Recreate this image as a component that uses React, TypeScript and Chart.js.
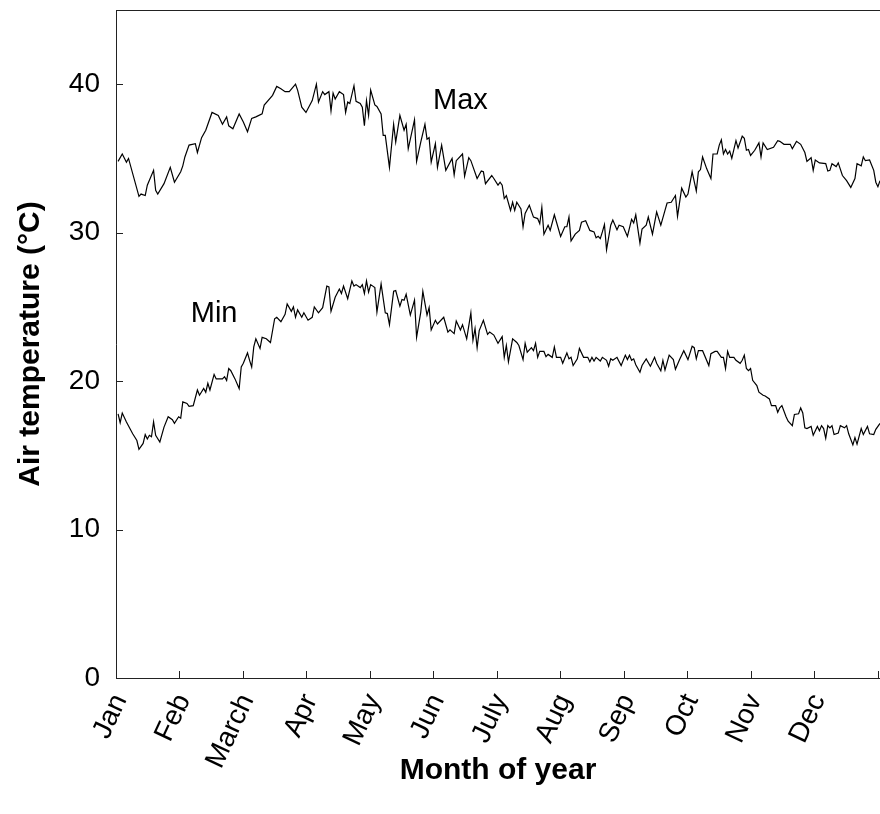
import React, { useEffect, useRef } from "react";
import { Chart, registerables } from "chart.js";

Chart.register(...registerables);

// ---- Data ----
const monthLabels = ["Jan", "Feb", "March", "Apr", "May", "Jun", "July", "Aug", "Sep", "Oct", "Nov", "Dec", ""];
const yTickValues = [0, 10, 20, 30, 40];

const maxDays = [
  1, 3, 5, 6, 11, 12, 14, 15, 18, 19,
  20, 23, 26, 28, 31, 32, 33, 35, 38, 39,
  41, 43, 46, 49, 51, 53, 54, 56, 59, 61,
  63, 65, 67, 70, 71, 75, 77, 79, 81, 83,
  86, 87, 89, 91, 94, 96, 97, 99, 100, 102,
  103, 104, 105, 107, 109, 110, 111, 112, 114, 115,
  117, 118, 119, 120, 121, 122, 124, 125, 127, 128,
  129, 131, 133, 134, 136, 138, 139, 140, 143, 144,
  146, 148, 149, 150, 151, 153, 154, 156, 158, 161,
  162, 163, 166, 167, 169, 170, 173, 175, 176, 177,
  180, 181, 183, 184, 185, 186, 187, 189, 190, 191,
  192, 194, 195, 196, 198, 200, 202, 203, 204, 205,
  207, 208, 210, 213, 215, 216, 217, 218, 220, 222,
  223, 225, 227, 229, 230, 231, 232, 233, 234, 235,
  237, 238, 240, 241, 243, 245, 247, 248, 249, 251,
  252, 254, 255, 257, 259, 261, 263, 264, 266, 268,
  269, 271, 273, 274, 276, 278, 279, 280, 281, 283,
  285, 286, 288, 289, 290, 291, 292, 293, 294, 295,
  297, 298, 300, 301, 302, 303, 304, 306, 308, 309,
  310, 312, 315, 317, 318, 320, 323, 324, 326, 328,
  330, 331, 333, 334, 335, 337, 340, 341, 342, 343,
  345, 346, 348, 350, 352, 354, 355, 357, 358, 359,
  361, 363, 364, 365, 366,
];
const maxTemps = [
  34.8, 35.3, 34.75, 35.0, 32.45, 32.6, 32.5, 33.2, 34.2, 32.85,
  32.6, 33.3, 34.4, 33.4, 34.1, 34.5, 35.1, 35.9, 36.0, 35.4,
  36.4, 36.9, 38.1, 37.9, 37.3, 37.8, 37.2, 37.0, 38.0, 37.45,
  36.8, 37.7, 37.8, 38.0, 38.6, 39.25, 39.85, 39.7, 39.5, 39.5,
  40.0, 39.6, 38.45, 38.1, 38.9, 40.0, 38.8, 39.5, 39.3, 39.5,
  38.2, 39.4, 39.0, 39.5, 39.3, 38.1, 38.8, 38.7, 39.9, 38.85,
  38.7, 38.45, 37.2, 38.9, 37.9, 39.6, 38.6, 38.5, 38.0, 36.55,
  36.55, 34.4, 37.3, 36.1, 37.9, 36.9, 37.3, 35.65, 37.6, 34.8,
  36.1, 37.3, 36.3, 36.4, 34.75, 36.0, 34.4, 35.9, 34.2, 35.0,
  33.9, 34.85, 35.3, 33.8, 35.05, 34.85, 33.65, 34.15, 34.1, 33.3,
  33.85, 33.65, 33.2, 33.4, 33.2, 32.3, 32.5, 31.5, 32.05, 31.5,
  32.05, 31.6, 30.4, 31.3, 31.85, 31.05, 30.95, 30.6, 31.7, 29.9,
  30.5, 30.15, 31.2, 29.75, 30.4, 30.4, 31.05, 29.45, 29.9, 30.15,
  30.7, 30.8, 30.15, 30.05, 29.65, 29.75, 29.6, 30.05, 30.55, 28.85,
  30.5, 30.85, 30.2, 30.5, 30.4, 29.75, 30.9, 30.65, 31.2, 29.3,
  30.25, 30.5, 31.05, 29.9, 31.4, 30.5, 31.5, 32.0, 32.05, 32.5,
  31.1, 33.0, 32.4, 32.6, 34.1, 32.8, 34.1, 34.25, 35.1, 34.3,
  33.65, 35.3, 35.3, 35.9, 36.25, 35.3, 35.6, 35.3, 35.5, 35.0,
  36.2, 35.7, 36.5, 36.35, 35.55, 35.6, 35.2, 35.55, 36.05, 35.1,
  36.05, 35.6, 35.75, 36.2, 36.15, 35.95, 35.95, 35.65, 36.15, 35.95,
  35.4, 34.8, 35.05, 34.2, 34.9, 34.7, 34.65, 34.15, 34.2, 34.65,
  34.45, 34.7, 33.85, 33.5, 33.05, 33.65, 34.65, 34.5, 35.1, 34.85,
  34.9, 34.2, 33.4, 33.1, 33.5,
];

const minDays = [
  1, 2, 3, 5, 8, 10, 11, 13, 14, 15,
  16, 17, 18, 19, 21, 23, 25, 27, 28, 30,
  31, 32, 34, 35, 37, 39, 40, 42, 43, 44,
  45, 47, 48, 51, 52, 53, 54, 55, 57, 59,
  60, 61, 63, 64, 65, 66, 67, 69, 70, 72,
  74, 76, 77, 79, 81, 82, 84, 85, 86, 87,
  89, 90, 92, 94, 95, 97, 99, 101, 102, 103,
  105, 107, 108, 109, 111, 113, 114, 115, 117, 118,
  119, 120, 121, 122, 124, 125, 127, 129, 130, 131,
  133, 134, 136, 137, 138, 139, 141, 143, 144, 146,
  147, 149, 150, 151, 153, 154, 157, 159, 160, 162,
  163, 165, 166, 168, 170, 171, 172, 173, 174, 176,
  178, 179, 181, 183, 185, 186, 187, 188, 190, 192,
  193, 195, 196, 197, 199, 200, 201, 202, 203, 205,
  206, 207, 209, 210, 211, 213, 214, 216, 217, 218,
  219, 221, 222, 224, 226, 227, 228, 229, 230, 232,
  233, 235, 236, 237, 238, 240, 242, 244, 245, 246,
  247, 248, 249, 251, 252, 254, 256, 258, 259, 261,
  262, 263, 265, 267, 268, 270, 272, 274, 276, 277,
  278, 279, 281, 284, 285, 287, 288, 290, 291, 292,
  293, 294, 296, 297, 299, 300, 301, 302, 303, 304,
  305, 307, 308, 310, 311, 313, 314, 316, 317, 318,
  319, 321, 322, 324, 325, 327, 328, 329, 330, 331,
  333, 334, 336, 337, 338, 339, 340, 341, 342, 343,
  344, 346, 347, 349, 350, 351, 353, 354, 355, 357,
  358, 360, 361, 363, 364, 366,
];
const minTemps = [
  17.8, 17.2, 17.85, 17.25, 16.45, 16.0, 15.4, 15.8, 16.4, 16.1,
  16.35, 16.25, 17.25, 16.35, 15.9, 16.9, 17.6, 17.4, 17.15, 17.6,
  17.5, 18.6, 18.5, 18.3, 18.35, 19.4, 19.05, 19.5, 19.25, 19.85,
  19.4, 20.45, 20.15, 20.15, 20.3, 20.05, 20.85, 20.7, 20.15, 19.5,
  20.95, 21.2, 21.9, 21.4, 20.95, 22.3, 22.85, 22.2, 22.95, 22.85,
  22.6, 24.2, 24.3, 24.0, 24.5, 25.2, 24.7, 25.0, 24.3, 24.8,
  24.3, 24.6, 24.1, 24.3, 25.0, 24.6, 24.95, 26.4, 26.35, 24.7,
  25.65, 26.2, 25.9, 26.4, 25.55, 26.75, 26.4, 26.5, 26.3, 26.5,
  25.9, 26.75, 26.0, 26.5, 26.3, 24.65, 26.55, 24.6, 24.55, 23.8,
  26.05, 26.1, 25.05, 25.5, 25.45, 25.85, 24.45, 25.45, 22.95, 24.65,
  26.05, 24.45, 24.95, 23.45, 24.1, 23.85, 24.3, 23.3, 23.45, 23.2,
  24.05, 23.45, 23.8, 22.85, 24.6, 22.75, 23.55, 22.25, 23.4, 24.1,
  23.15, 23.3, 23.1, 22.55, 23.0, 21.6, 22.4, 21.3, 22.85, 22.6,
  22.4, 21.45, 22.55, 21.95, 22.25, 22.05, 22.55, 21.6, 22.0, 22.0,
  21.65, 21.8, 21.6, 22.3, 21.6, 21.6, 21.2, 21.9, 21.5, 21.6,
  21.05, 21.5, 22.2, 21.6, 21.6, 21.3, 21.6, 21.35, 21.6, 21.35,
  21.6, 21.4, 21.0, 21.5, 21.4, 21.6, 21.05, 21.75, 21.45, 21.75,
  21.4, 21.5, 21.1, 20.6, 21.05, 21.5, 21.0, 21.6, 21.2, 20.7,
  21.4, 20.75, 21.75, 21.45, 20.8, 21.45, 22.05, 21.45, 22.35, 22.25,
  21.5, 22.05, 22.05, 21.05, 21.85, 22.0, 22.0, 21.6, 21.6, 20.85,
  22.0, 21.6, 21.6, 21.4, 21.2, 21.4, 21.75, 20.85, 20.7, 20.85,
  20.05, 19.7, 19.25, 19.05, 19.0, 18.8, 18.35, 18.35, 17.9, 18.2,
  18.35, 17.6, 17.3, 17.0, 17.75, 17.8, 18.2, 17.85, 16.85, 16.8,
  16.95, 16.35, 16.95, 16.65, 17.0, 16.8, 16.15, 17.0, 16.85, 17.0,
  16.4, 16.5, 17.0, 16.85, 17.0, 16.45, 15.7, 16.2, 15.75, 16.8,
  16.4, 16.95, 16.45, 16.4, 16.75, 17.15,
];

// Annotation labels (placed in data coordinates)
const seriesLabels = [
  { text: "Max", day: 165, temp: 38.9 },
  { text: "Min", day: 47, temp: 24.55 },
];

// ---- Styling ----
const FONT = "'Liberation Sans', Arial, Helvetica, sans-serif";
const AXIS_COLOR = "#222";
const DAYS_IN_YEAR = 365;
const X_MAX = 366;
const monthTickValues = monthLabels.map((_, i) => (i * DAYS_IN_YEAR) / 12);

const framePlugin = {
  id: "frame",
  afterDraw(chart: any) {
    const { ctx, chartArea, scales } = chart;
    const { left, right, top, bottom } = chartArea;
    const xs = scales.x;
    const ys = scales.y;
    ctx.save();
    ctx.strokeStyle = AXIS_COLOR;
    ctx.lineWidth = 1;
    ctx.beginPath();
    ctx.moveTo(left + 0.5, top);
    ctx.lineTo(left + 0.5, bottom + 0.5);
    ctx.lineTo(right, bottom + 0.5);
    ctx.moveTo(left, top + 0.5);
    ctx.lineTo(right, top + 0.5);
    xs.ticks.forEach((t: any) => {
      const px = Math.round(xs.getPixelForValue(t.value)) + 0.5;
      ctx.moveTo(px, bottom);
      ctx.lineTo(px, bottom - 7);
    });
    ys.ticks.forEach((t: any) => {
      const py = Math.round(ys.getPixelForValue(t.value)) + 0.5;
      ctx.moveTo(left, py);
      ctx.lineTo(left + 7, py);
    });
    ctx.stroke();
    ctx.fillStyle = "#000";
    ctx.font = `29px ${FONT}`;
    ctx.textAlign = "center";
    ctx.textBaseline = "middle";
    seriesLabels.forEach((l) => {
      ctx.fillText(l.text, xs.getPixelForValue(l.day), ys.getPixelForValue(l.temp));
    });
    ctx.restore();
  },
};

export default function App() {
  const canvasRef = useRef<HTMLCanvasElement | null>(null);

  useEffect(() => {
    if (!canvasRef.current) return;
    const chart = new Chart(canvasRef.current, {
      type: "line",
      data: {
        datasets: [
          {
            label: "Max",
            data: maxDays.map((d, i) => ({ x: d, y: maxTemps[i] })),
            borderColor: "#000",
            borderWidth: 1.2,
            pointRadius: 0,
            tension: 0,
            fill: false,
          },
          {
            label: "Min",
            data: minDays.map((d, i) => ({ x: d, y: minTemps[i] })),
            borderColor: "#000",
            borderWidth: 1.2,
            pointRadius: 0,
            tension: 0,
            fill: false,
          },
        ],
      },
      options: {
        animation: false,
        responsive: true,
        maintainAspectRatio: false,
        layout: { padding: { top: 10, right: 0, bottom: 0, left: 0 } },
        plugins: {
          legend: { display: false },
          tooltip: { enabled: false },
        },
        scales: {
          x: {
            type: "linear",
            min: 0,
            max: X_MAX,
            grid: { display: false, drawTicks: false },
            border: { display: false },
            afterBuildTicks: (scale: any) => {
              scale.ticks = monthTickValues.map((v) => ({ value: v }));
            },
            afterFit: (scale: any) => {
              scale.height = 136;
              scale.paddingLeft = 0;
              scale.paddingRight = 0;
              scale.paddingTop = 0;
              scale.paddingBottom = 0;
            },
            ticks: {
              autoSkip: false,
              minRotation: 65,
              maxRotation: 65,
              padding: 11,
              labelOffset: 4,
              color: "#000",
              font: { family: FONT, size: 28 },
              callback: (_v: any, index: number) => monthLabels[index],
            },
            title: {
              display: true,
              text: "Month of year",
              color: "#000",
              font: { family: FONT, size: 30, weight: "bold" },
              padding: { top: 0, bottom: 25 },
            },
          },
          y: {
            type: "linear",
            min: 0,
            max: 45,
            grid: { display: false, drawTicks: false },
            border: { display: false },
            afterBuildTicks: (scale: any) => {
              scale.ticks = yTickValues.map((v) => ({ value: v }));
            },
            afterFit: (scale: any) => {
              scale.width = 116;
              scale.paddingLeft = 0;
              scale.paddingRight = 0;
              scale.paddingTop = 0;
              scale.paddingBottom = 0;
            },
            ticks: {
              padding: 16,
              color: "#000",
              font: { family: FONT, size: 28 },
              callback: (v: any) => String(v),
            },
            title: {
              display: true,
              text: "Air temperature (°C)",
              color: "#000",
              font: { family: FONT, size: 30, weight: "bold" },
              padding: { top: 13, bottom: 0 },
            },
          },
        },
      },
      plugins: [framePlugin],
    });
    return () => chart.destroy();
  }, []);

  return (
    <div style={{ position: "fixed", left: 0, top: 0, width: 880, height: 814, background: "#fff" }}>
      <canvas ref={canvasRef} />
    </div>
  );
}
